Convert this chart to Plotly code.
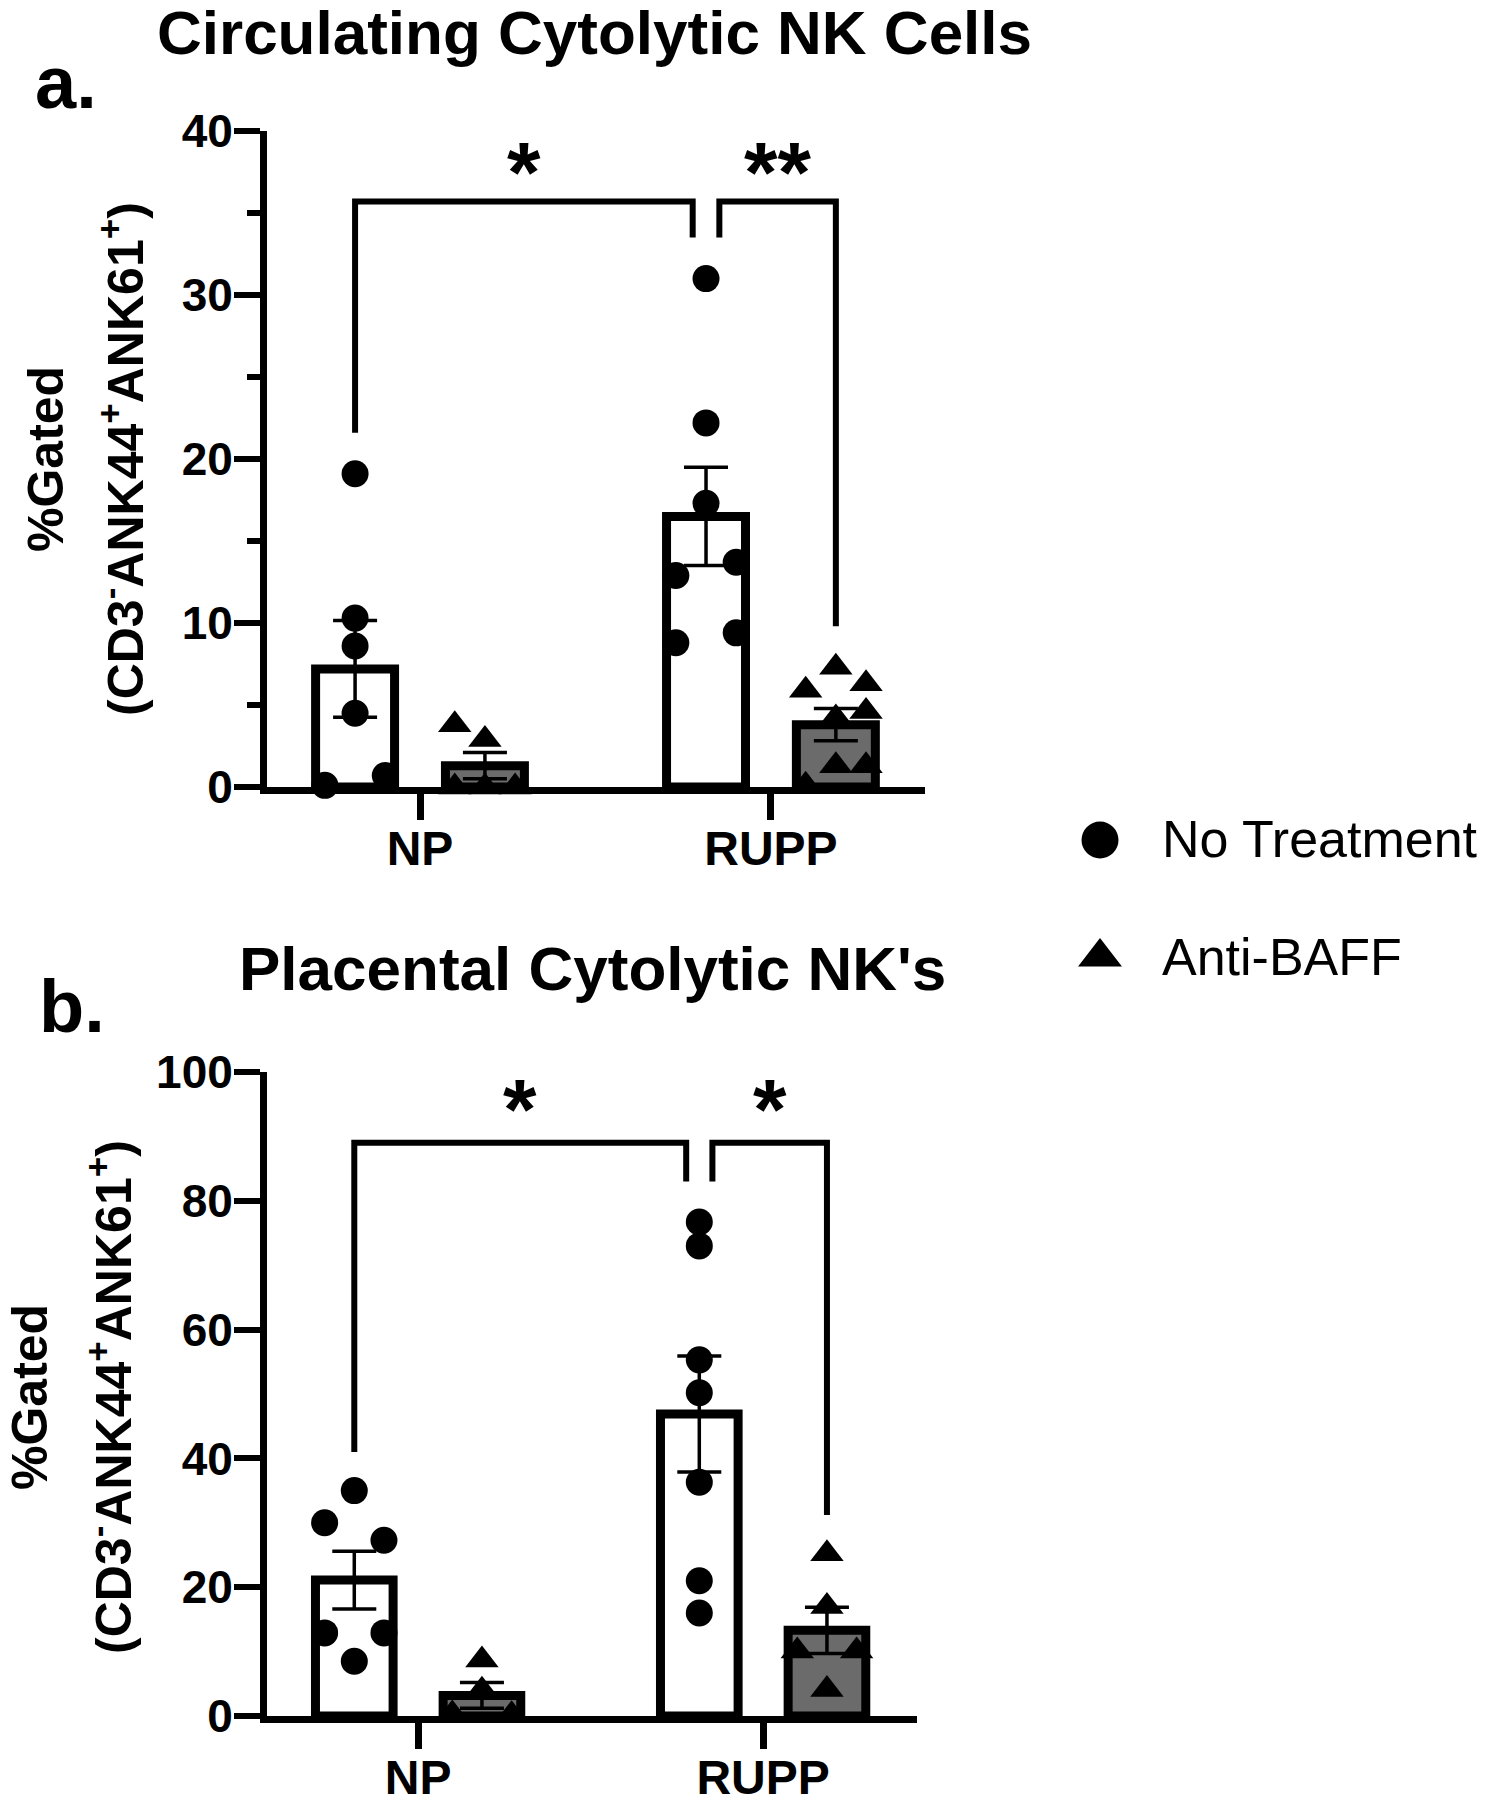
import plotly.graph_objects as go

# ---------------- data ----------------
groups = ["NP", "RUPP"]
series = ["No Treatment", "Anti-BAFF"]

# Panel a: Circulating Cytolytic NK Cells (%Gated)
a_np_nt = [19.1, 10.3, 8.6, 4.5, 0.7, 0.1]
a_np_ab = [3.8, 2.9, 0.0, 0.0, 0.0]
a_rupp_nt = [31.0, 22.2, 17.3, 13.7, 12.9, 9.4, 8.8]
a_rupp_ab = [7.3, 6.3, 5.9, 4.6, 4.2, 1.3, 1.3, 0.1]
a_mean_nt = [7.2, 16.5]
a_sem_nt = [2.95, 3.0]
a_mean_ab = [1.3, 3.8]
a_sem_ab = [0.8, 0.98]

# Panel b: Placental Cytolytic NK's (%Gated)
b_np_nt = [35.0, 30.0, 27.3, 12.9, 12.9, 8.5]
b_np_ab = [8.7, 4.0, 0.3, 0.2]
b_rupp_nt = [76.7, 73.0, 55.3, 50.2, 36.3, 21.0, 16.0]
b_rupp_ab = [25.2, 17.0, 10.1, 10.1, 4.1]
b_mean_nt = [21.1, 46.9]
b_sem_nt = [4.5, 9.0]
b_mean_ab = [3.2, 13.3]
b_sem_ab = [2.0, 3.6]

# significance brackets: (label, left bar, right bar, top, left end, right end)
a_sig = [("*", (0, 0), (1, 0), 35.7, 21.6, 33.5), ("**", (1, 0), (1, 1), 35.7, 33.5, 9.8)]
b_sig = [("*", (0, 0), (1, 0), 89.0, 41.0, 83.0), ("*", (1, 0), (1, 1), 89.0, 83.0, 31.2)]
a_star_y = 38.0
b_star_y = 95.5

# ---------------- styling / layout constants ----------------
W, H = 1490, 1800
FONT = "Liberation Sans, Arial, Helvetica, sans-serif"
OFF = 0.185          # bar offset from group centre
BW = 0.225           # bar width
JIT = 0.086          # horizontal spread of points
GAP = 0.038          # gap between adjacent brackets
GREY = "#6b6b6b"

# jitter columns for points (-1 left, 0 centre, 1 right)
a_np_nt_j = [0, 0, 0, 0, 1, -1]
a_np_ab_j = [-1, 0, -1, 0, 1]
a_rupp_nt_j = [0, 0, 0, 1, -1, 1, -1]
a_rupp_ab_j = [0, 1, -1, 1, 0, 0, 1, -1]
b_np_nt_j = [0, -1, 1, -1, 1, 0]
b_np_ab_j = [0, 0, -1, 1]
b_rupp_nt_j = [0, 0, 0, 0, 0, 0, 0]
b_rupp_ab_j = [0, 0, -1, 1, 0]

fig = go.Figure()


def bar_x(gi, si):
    return gi + (-OFF if si == 0 else OFF)


def add_panel(xa, ya, mean_nt, sem_nt, mean_ab, sem_ab, pts):
    fig.add_trace(go.Bar(
        x=[bar_x(i, 0) for i in range(2)], y=mean_nt, width=BW,
        marker=dict(color="white", line=dict(color="black", width=9)),
        error_y=dict(type="data", array=sem_nt, color="black", thickness=3.5, width=22),
        xaxis=xa, yaxis=ya, showlegend=False, hoverinfo="skip"))
    fig.add_trace(go.Bar(
        x=[bar_x(i, 1) for i in range(2)], y=mean_ab, width=BW,
        marker=dict(color=GREY, line=dict(color="black", width=9)),
        error_y=dict(type="data", array=sem_ab, color="black", thickness=3.5, width=22),
        xaxis=xa, yaxis=ya, showlegend=False, hoverinfo="skip"))
    for gi, si, vals, jit in pts:
        fig.add_trace(go.Scatter(
            x=[bar_x(gi, si) + j * JIT for j in jit], y=vals, mode="markers",
            marker=dict(symbol="circle" if si == 0 else "triangle-up",
                        size=27 if si == 0 else 29, color="black", opacity=1, line=dict(width=0)),
            cliponaxis=False, xaxis=xa, yaxis=ya, showlegend=False, hoverinfo="skip"))


add_panel("x", "y", a_mean_nt, a_sem_nt, a_mean_ab, a_sem_ab,
          [(0, 0, a_np_nt, a_np_nt_j), (0, 1, a_np_ab, a_np_ab_j),
           (1, 0, a_rupp_nt, a_rupp_nt_j), (1, 1, a_rupp_ab, a_rupp_ab_j)])
add_panel("x2", "y2", b_mean_nt, b_sem_nt, b_mean_ab, b_sem_ab,
          [(0, 0, b_np_nt, b_np_nt_j), (0, 1, b_np_ab, b_np_ab_j),
           (1, 0, b_rupp_nt, b_rupp_nt_j), (1, 1, b_rupp_ab, b_rupp_ab_j)])

shapes = []
annotations = []


def add_brackets(sig, xr, yr, star_y, star_size):
    for k, (lab, l, r, top, yl, yrr) in enumerate(sig):
        x0 = bar_x(*l) + (GAP if k == 1 else 0)
        x1 = bar_x(*r) - (GAP if k == 0 else 0)
        shapes.append(dict(type="path", xref=xr, yref=yr,
                           path=f"M {x0},{yl} L {x0},{top} L {x1},{top} L {x1},{yrr}",
                           line=dict(color="black", width=6)))
        annotations.append(dict(x=(x0 + x1) / 2, y=star_y, xref=xr, yref=yr, text=f"<b>{lab}</b>",
                                showarrow=False, yanchor="middle", xanchor="center", yshift=-8,
                                font=dict(family=FONT, size=star_size, color="black")))


add_brackets(a_sig, "x", "y", a_star_y, 86)
add_brackets(b_sig, "x2", "y2", b_star_y, 86)

# titles and panel letters
annotations += [
    dict(x=594 / W, y=1 - 32 / H, xref="paper", yref="paper", text="<b>Circulating Cytolytic NK Cells</b>",
         showarrow=False, xanchor="center", yanchor="middle", font=dict(family=FONT, size=62, color="black")),
    dict(x=592 / W, y=1 - 968 / H, xref="paper", yref="paper", text="<b>Placental Cytolytic NK's</b>",
         showarrow=False, xanchor="center", yanchor="middle", font=dict(family=FONT, size=62, color="black")),
    dict(x=66 / W, y=1 - 82 / H, xref="paper", yref="paper", text="<b>a.</b>",
         showarrow=False, xanchor="center", yanchor="middle", font=dict(family=FONT, size=74, color="black")),
    dict(x=72 / W, y=1 - 1006 / H, xref="paper", yref="paper", text="<b>b.</b>",
         showarrow=False, xanchor="center", yanchor="middle", font=dict(family=FONT, size=74, color="black")),
]

ylab2 = "<b>(CD3<sup>-</sup>ANK44<sup>+</sup>ANK61<sup>+</sup>)</b>"
for (x1p, x2p, yc) in [(46, 122, 459), (30, 110, 1397)]:
    annotations.append(dict(x=x1p / W, y=1 - yc / H, xref="paper", yref="paper", text="<b>%Gated</b>",
                            textangle=-90, showarrow=False, xanchor="center", yanchor="middle",
                            font=dict(family=FONT, size=50, color="black")))
    annotations.append(dict(x=x2p / W, y=1 - yc / H, xref="paper", yref="paper", text=ylab2,
                            textangle=-90, showarrow=False, xanchor="center", yanchor="middle",
                            font=dict(family=FONT, size=50, color="black")))

# legend (drawn manually so marker sizes match)
for sym, sz, yv in [("circle", 37, 0.8), ("triangle-up", 38, 0.215)]:
    fig.add_trace(go.Scatter(x=[0.5], y=[yv], mode="markers",
                             marker=dict(symbol=sym, size=sz, color="black", opacity=1),
                             xaxis="x3", yaxis="y3", showlegend=False, hoverinfo="skip",
                             cliponaxis=False))
for name, yc in zip(series, [839, 957]):
    annotations.append(dict(x=1160 / W, y=1 - yc / H, xref="paper", yref="paper", text=name,
                            showarrow=False, xanchor="left", yanchor="middle",
                            font=dict(family=FONT, size=52, color="black")))

tickfont_x = dict(family=FONT, size=48, color="black", weight="bold")
tickfont_y = dict(family=FONT, size=46, color="black", weight="bold")
common_x = dict(tickmode="array", tickvals=[0, 1], ticktext=groups, ticks="outside", ticklen=26,
                tickwidth=7, tickcolor="black", showline=True, linewidth=7, linecolor="black",
                showgrid=False, zeroline=False, tickfont=tickfont_x, fixedrange=True,
                automargin=False, ticklabelstandoff=-13)
common_y = dict(ticks="outside", ticklen=26, tickwidth=6, tickcolor="black", showline=True,
                linewidth=7, linecolor="black", showgrid=False, zeroline=False,
                tickfont=tickfont_y, fixedrange=True, automargin=False, ticklabelstandoff=-8)

fig.update_layout(
    template="none",
    width=W, height=H, margin=dict(l=0, r=0, t=0, b=0, pad=0, autoexpand=False),
    paper_bgcolor="white", plot_bgcolor="white", barmode="overlay", showlegend=False,
    font=dict(family=FONT, color="black"),
    xaxis=dict(domain=[267 / W, 925 / W], range=[-0.436, 1.439], anchor="y", **common_x),
    yaxis=dict(domain=[1 - 787 / H, 1 - 131 / H], range=[0, 40], tickvals=[0, 10, 20, 30, 40],
               anchor="x",
               minor=dict(tickvals=[5, 15, 25, 35], ticks="outside", ticklen=13, tickwidth=6,
                          tickcolor="black", showgrid=False), **common_y),
    xaxis2=dict(domain=[267 / W, 917 / W], range=[-0.438, 1.446], anchor="y2", **common_x),
    yaxis2=dict(domain=[1 - 1716 / H, 1 - 1072 / H], range=[0, 100], tickvals=[0, 20, 40, 60, 80, 100],
                anchor="x2", **common_y),
    xaxis3=dict(domain=[1060 / W, 1140 / W], range=[0, 1], visible=False, fixedrange=True),
    yaxis3=dict(domain=[1 - 1000 / H, 1 - 800 / H], range=[0, 1], visible=False, fixedrange=True,
                anchor="x3"),
    shapes=shapes, annotations=annotations,
)

fig.write_html("out.html", config={"displayModeBar": False},
               post_script="document.body.style.margin='0px';document.body.style.padding='0px';")
